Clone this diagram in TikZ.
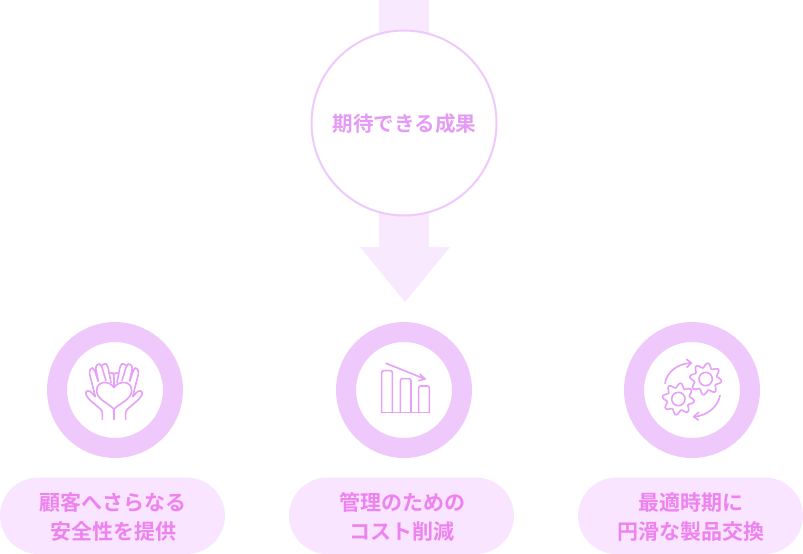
\documentclass[tikz,border=0pt]{standalone}
\usepackage{fontspec}
\setmainfont{Noto Sans CJK JP}[BoldFont={Noto Sans CJK JP Bold}]
\definecolor{arrowfill}{HTML}{F8E9FF}
\definecolor{ringcol}{HTML}{EFC9FC}
\definecolor{pillfill}{HTML}{F9E5FF}
\definecolor{pilltext}{HTML}{EE82EE}
\definecolor{titletext}{HTML}{E59BF5}
\definecolor{iconcol}{HTML}{E6A0F8}
\tikzset{
  ring/.style={circle,draw=ringcol,line width=20pt,fill=white,minimum size=116pt,inner sep=0pt},
  pill/.style={rounded corners=38.5pt,fill=pillfill,minimum width=225pt,minimum height=76.5pt,inner sep=0pt},
  pilllabel/.style={align=center,text=pilltext,inner sep=0pt,font=\fontsize{21pt}{29pt}\selectfont\bfseries},
  iconline/.style={draw=iconcol,line width=1.6pt,line join=round,line cap=round}
}
\begin{document}
\begin{tikzpicture}[x=1pt,y=-1pt]
\useasboundingbox (0,0) rectangle (803,554);
% arrow
\fill[arrowfill] (379,0) -- (429,0) -- (429,247) -- (450,247) -- (405,302) -- (360,247) -- (379,247) -- cycle;
% central circle
\node[circle,draw=ringcol,line width=2pt,fill=white,minimum size=185pt,inner sep=0pt] (goal) at (404,123) {};
\node[text=titletext,inner sep=0pt,font=\fontsize{20.6pt}{24pt}\selectfont\bfseries] (goaltext) at (404.5,124) {期待できる成果};
% rings
\node[ring] (r1) at (115,390) {};
\node[ring] (r2) at (404,390) {};
\node[ring] (r3) at (692,390) {};
% pills
\node[pill] (p1) at (112.5,515.75) {};
\node[pill] (p2) at (401.5,515.75) {};
\node[pill] (p3) at (690.5,515.75) {};
\node[pilllabel] (t1) at (113,517) {顧客へさらなる\\安全性を提供};
\node[pilllabel] (t2) at (402,517) {管理のための\\コスト削減};
\node[pilllabel] (t3) at (691,517) {最適時期に\\円滑な製品交換};
% hands icon
\begin{scope}[shift={(60,340)},x=0.3333pt,y=-0.3333pt]
  \draw[iconline,rounded corners=2.5pt] (127,238) -- (127,212) -- (85,176) -- (75,158) -- (84,150) -- (98,160) -- (107,174)
      -- (87,95) -- (95,82) -- (103,88) -- (116,128)
      -- (106,80) -- (116,70) -- (124,76) -- (138,122)
      (126,76) -- (135,69) -- (143,76) -- (153,128) (151,100) -- (157,95) -- (162,105) -- (162,143);
  \draw[iconline,rounded corners=2.5pt] (197,238) -- (197,212) -- (239,176) -- (249,158) -- (240,150) -- (226,160) -- (217,174)
      -- (237,95) -- (229,82) -- (221,88) -- (208,128)
      -- (218,80) -- (208,70) -- (200,76) -- (186,122)
      (198,76) -- (189,69) -- (181,76) -- (171,128) (173,100) -- (167,95) -- (162,105);
  \draw[iconline,fill=white] (162,143) .. controls (150,122) and (110,120) .. (110,152)
     .. controls (110,178) and (145,190) .. (162,207)
     .. controls (179,190) and (215,178) .. (215,152)
     .. controls (215,120) and (174,122) .. (162,143) -- cycle;
  \draw[iconline] (162,207) -- (162,238);
\end{scope}
% chart icon
\begin{scope}[shift={(350,340)},x=0.3333pt,y=-0.3333pt]
  \draw[iconline,rounded corners=2pt] (95,218) -- (95,92) -- (127,92) -- (127,218);
  \draw[iconline,rounded corners=2pt] (151,218) -- (151,116) -- (183,116) -- (183,218);
  \draw[iconline,rounded corners=2pt] (206,218) -- (206,138) -- (238,138) -- (238,218);
  \draw[iconline] (95,218) -- (238,218);
  \draw[iconline] (108,70) -- (225,117);
  \draw[iconline] (210,103) -- (225,117) -- (206,122);
\end{scope}
% gears icon
\begin{scope}[shift={(640,340)},x=0.3333pt,y=-0.3333pt]
  \draw[iconline] plot[smooth cycle,samples=64,domain=0:354.375,variable=\t]
    ({197+(41+7*sin(8*\t+22))*cos(\t)},{117+(41+7*sin(8*\t+22))*sin(\t)});
  \draw[iconline] (197,117) circle[radius=20];
  \draw[iconline] plot[smooth cycle,samples=64,domain=0:354.375,variable=\t]
    ({115+(41+7*sin(8*\t+22))*cos(\t)},{177+(41+7*sin(8*\t+22))*sin(\t)});
  \draw[iconline] (115,177) circle[radius=20];
  \draw[iconline] (75,130) .. controls (80,95) and (115,70) .. (153,69);
  \draw[iconline] (140,58) -- (154,69) -- (141,82);
  \draw[iconline] (240,166) .. controls (235,200) and (200,228) .. (162,230);
  \draw[iconline] (176,217) -- (161,230) -- (175,240);
\end{scope}
\end{tikzpicture}
\end{document}
